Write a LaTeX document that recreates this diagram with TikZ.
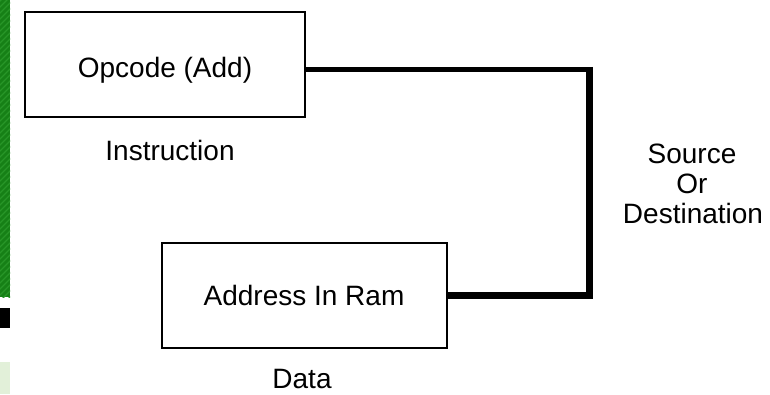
\documentclass[tikz,border=0pt]{standalone}
\usepackage{fontspec}
\setmainfont{Liberation Sans}
\definecolor{stripdark}{RGB}{22,128,22}
\definecolor{striplight}{RGB}{40,150,40}
\definecolor{paleleaf}{RGB}{226,240,217}
\begin{document}
\begin{tikzpicture}[x=1pt,y=-1pt,
  blockbox/.style={draw=black,line width=2.6pt,fill=white,inner sep=0pt},
  lbl/.style={font=\fontsize{28}{30}\selectfont,text=black,inner sep=0pt,anchor=base},
  wire/.style={draw=black,line width=7pt,line join=miter}]
\useasboundingbox (0,0) rectangle (770,394);
\fill[white] (0,0) rectangle (770,394);

% edge strip on the left
\begin{scope}
  \clip (0,0) rectangle (10,297);
  \fill[stripdark] (0,0) rectangle (10,297);
  \foreach \k in {0,6,...,320}
    \draw[striplight,line width=1.4pt] (-5,\k) -- (15,\k-20);
\end{scope}
\fill[black] (0,308) rectangle (10,328);
\fill[paleleaf] (0,362) rectangle (10,394);

% blocks
\node[blockbox,minimum width=280pt,minimum height=105pt] (op) at (165,64.5) {};
\node[blockbox,minimum width=285pt,minimum height=105pt] (ad) at (304.5,295.5) {};

% labels
\node[lbl] (opt) at (165,77) {Opcode (Add)};
\node[lbl] (adt) at (304,305) {Address In Ram};
\node[lbl] (ins) at (170,160) {Instruction};
\node[lbl] (dat) at (302,388) {Data};
\node[lbl] (src) at (692,163) {Source};
\node[lbl] (orr) at (692,193) {Or};
\node[lbl] (dst) at (693,223) {Destination};

% connector between the blocks
\coordinate (c1) at ([yshift=-5pt]op.east -| 589,0);
\coordinate (c2) at (ad.east -| 589,0);
\draw[wire,line width=5.5pt] ([yshift=-5pt]op.east) -- ([xshift=4pt]c1);
\draw[wire] ([yshift=2.75pt]c1) -- (c2) -- (ad.east);
\end{tikzpicture}
\end{document}
